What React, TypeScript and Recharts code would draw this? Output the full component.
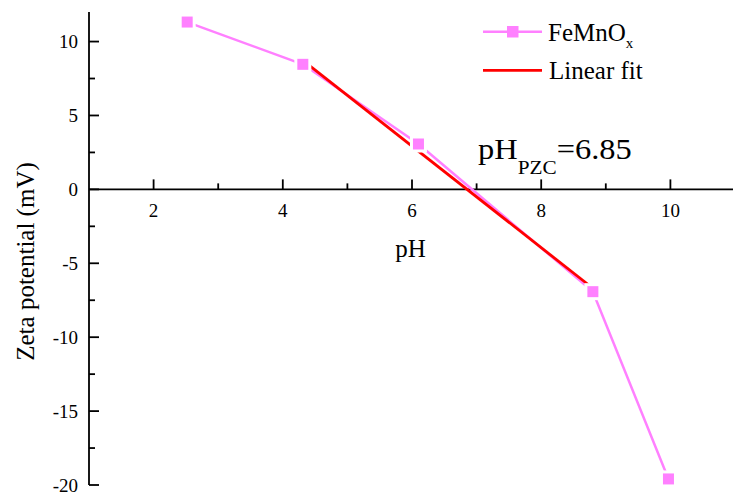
import React from "react";
import {
  ComposedChart,
  Line,
  XAxis,
  YAxis,
  ReferenceLine,
  Legend,
} from "recharts";

// measured zeta potential vs pH
const PH = [2.52, 4.31, 6.1, 8.8, 9.97];
const ZETA = [11.32, 8.46, 3.07, -6.92, -19.59];

// linear fit segment (crosses zero at pH 6.85)
const FIT_PH = [4.3, 8.8];
const FIT_ZETA = [8.76, -6.69];

const X_TICKS = [2, 3, 4, 5, 6, 7, 8, 9, 10];
const Y_TICKS = [-20, -17.5, -15, -12.5, -10, -7.5, -5, -2.5, 0, 2.5, 5, 7.5, 10];

const PINK = "#FF80FF";
const RED = "#FF0000";
const FONT = "'Liberation Serif', 'Times New Roman', serif";
const txt = (size: number) => ({ fontFamily: FONT, fontSize: size, fill: "#000" });

const W = 737;
const H = 495;
const MARGIN = { top: 12, right: 2, bottom: 0, left: 0 };
const X_AXIS_H = 10;
const Y_DOMAIN: [number, number] = [-20, 12];
const PLOT_H = H - MARGIN.top - MARGIN.bottom - X_AXIS_H;
// pixel row of y = 0, where the x axis sits
const ZERO_Y = MARGIN.top + (PLOT_H * Y_DOMAIN[1]) / (Y_DOMAIN[1] - Y_DOMAIN[0]);

const series = PH.map((x, i) => ({ x, y: ZETA[i] }));
const fit = FIT_PH.map((x, i) => ({ x, y: FIT_ZETA[i] }));

const XTick = (props: any) => {
  const { x, payload } = props;
  const v = payload.value;
  const major = v % 2 === 0;
  return (
    <g>
      <line
        x1={x}
        x2={x}
        y1={ZERO_Y}
        y2={ZERO_Y - (major ? 10 : 6)}
        stroke="#000"
        strokeWidth={1.8}
      />
      {major && (
        <text x={x} y={ZERO_Y + 28} textAnchor="middle" style={txt(19)}>
          {v}
        </text>
      )}
    </g>
  );
};

const YTick = (props: any) => {
  const { x, y, payload } = props;
  const v = payload.value;
  const major = v % 5 === 0;
  return (
    <g>
      <line x1={x} x2={x + (major ? 10 : 6)} y1={y} y2={y} stroke="#000" strokeWidth={1.8} />
      {major && (
        <text x={x - 11} y={y + 6.5} textAnchor="end" style={txt(19)}>
          {v}
        </text>
      )}
    </g>
  );
};

const SquareDot = (props: any) => {
  const { cx, cy } = props;
  return (
    <g>
      <rect x={cx - 8.5} y={cy - 8.5} width={17} height={17} fill="#fff" />
      <rect x={cx - 5.5} y={cy - 5.5} width={11} height={11} fill={PINK} />
    </g>
  );
};

const LegendBox = () => (
  <svg width={180} height={95} style={{ display: "block" }}>
    <line x1={13} x2={72} y1={31.7} y2={31.7} stroke={PINK} strokeWidth={2.5} />
    <rect x={37} y={26} width={11.5} height={11.5} fill={PINK} />
    <text x={78} y={40.7} style={txt(25)}>
      FeMnO
      <tspan dy={7.6} style={{ fontSize: 15 }}>
        x
      </tspan>
    </text>
    <line x1={13} x2={72} y1={70.3} y2={70.3} stroke={RED} strokeWidth={2.8} />
    <text x={79} y={79} style={txt(25)}>
      Linear fit
    </text>
  </svg>
);

export default function App() {
  return (
    <div
      style={{
        position: "absolute",
        left: 0,
        top: 0,
        width: 733,
        height: 495,
        overflow: "hidden",
        background: "#fff",
        fontFamily: FONT,
      }}
    >
      <ComposedChart width={W} height={H} margin={MARGIN} style={{ fontFamily: FONT }}>
        <XAxis
          type="number"
          dataKey="x"
          domain={[1, 11]}
          ticks={X_TICKS}
          interval={0}
          height={X_AXIS_H}
          axisLine={false}
          tickLine={false}
          tickSize={0}
          tickMargin={0}
          tick={<XTick />}
          allowDataOverflow
          label={{
            content: () => (
              <text x={410.5} y={257} textAnchor="middle" style={txt(25)}>
                pH
              </text>
            ),
          }}
        />
        <YAxis
          type="number"
          domain={Y_DOMAIN}
          ticks={Y_TICKS}
          interval={0}
          width={89}
          axisLine={{ stroke: "#000", strokeWidth: 1.8 }}
          tickLine={false}
          tickSize={0}
          tickMargin={0}
          tick={<YTick />}
          allowDataOverflow
          label={{
            content: () => (
              <text
                x={34}
                y={261.5}
                transform="rotate(-90, 34, 261.5)"
                textAnchor="middle"
                style={txt(25)}
              >
                Zeta potential (mV)
              </text>
            ),
          }}
        />
        <ReferenceLine y={0} stroke="#000" strokeWidth={1.8} />
        <Line
          data={series}
          dataKey="y"
          name="FeMnOx"
          stroke={PINK}
          strokeWidth={2.5}
          dot={<SquareDot />}
          activeDot={false}
          isAnimationActive={false}
        />
        <Line
          data={fit}
          dataKey="y"
          name="Linear fit"
          stroke={RED}
          strokeWidth={2.8}
          dot={false}
          activeDot={false}
          isAnimationActive={false}
        />
        <Legend
          layout="vertical"
          align="center"
          verticalAlign="middle"
          wrapperStyle={{ position: "absolute", left: 470, top: 0, width: 180 }}
          content={() => <LegendBox />}
        />
        <text
          x={478}
          y={159.5}
          transform="translate(478,0) scale(1.12,1) translate(-478,0)"
          style={txt(29)}
        >
          pH
          <tspan dy={15} style={{ fontSize: 19 }}>
            PZC
          </tspan>
          <tspan dy={-15}>=6.85</tspan>
        </text>
      </ComposedChart>
    </div>
  );
}
